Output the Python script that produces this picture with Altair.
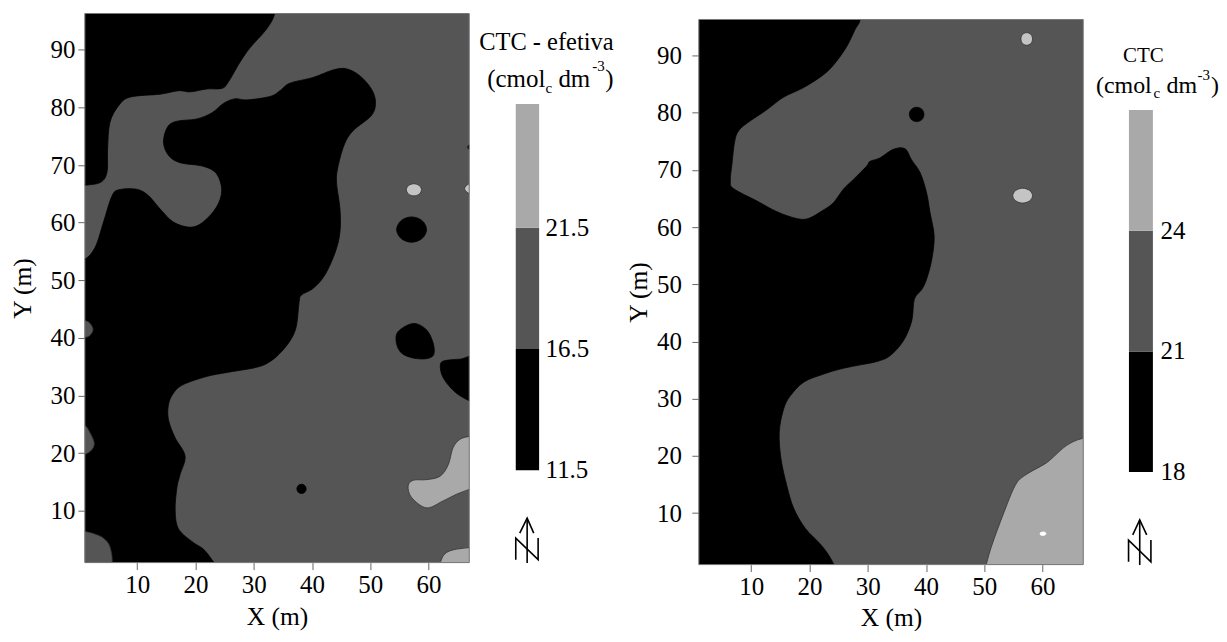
import altair as alt
import pandas as pd

SERIF = "Liberation Serif"
BLACK, DARK, LIGHT, WHITE = "#000000", "#555555", "#a9a9a9", "#ffffff"

x_ticks = [10, 20, 30, 40, 50, 60]
y_ticks = [10, 20, 30, 40, 50, 60, 70, 80, 90]
x_domain = [1, 67]
y_domain = [1, 96.3]

# ---- panel A (CTC - efetiva)
a_black_top = [(-1.5,100),(33.9,100),(33.6,96.3),(32.2,93.6),(29.4,90.4),(27.6,87.8),(25.6,84.35),(24.5,83.3),(21.9,83.2),(19.1,82.7),(17.1,82.9),(13.9,82.3),(8.8,81.8),(6.8,80.3),(5.3,77.4),(4.9,72.8),(4.8,68.8),(3.7,67.0),(1.0,66.5),(-1.5,66.4)]
a_black_main = [(-1.5,53.7),(1.0,53.7),(2.8,55.8),(4.2,60.1),(5.6,64.5),(6.8,65.7),(9.9,65.8),(11.9,64.7),(13.9,62.4),(16.2,60.1),(19.1,59.2),(21.3,60.1),(23.6,62.7),(24.5,65.6),(23.6,68.5),(21.3,69.8),(17.35,70.4),(15.35,71.7),(14.5,74.0),(15.2,76.6),(16.8,77.6),(20.2,78.0),(22.8,79.05),(24.8,80.7),(26.8,81.5),(28.8,81.3),(32.8,81.9),(34.5,82.9),(36.2,84.2),(40.2,85.2),(43.6,86.5),(45.9,86.7),(48.2,85.5),(50.2,83.2),(50.9,80.9),(50.2,78.6),(47.1,76.0),(45.6,73.7),(44.5,69.9),(44.2,67.05),(44.8,62.4),(44.8,58.4),(44.0,54.9),(42.2,50.9),(40.2,48.6),(38.2,47.45),(37.8,46.3),(37.35,42.25),(36.5,39.95),(34.8,37.65),(32.8,35.9),(30.5,34.9),(25.4,34.0),(21.9,33.3),(17.9,31.9),(16.2,30.4),(15.35,28.4),(15.35,25.8),(16.5,22.65),(18.2,19.5),(17.35,16.3),(16.8,14.0),(16.5,10.0),(17.1,6.8),(19.6,4.5),(21.4,3.3),(23.2,1.0),(24.8,-1.0),(-1.5,-1.0)]
a_black_blob = [(57.4,42.5),(59.65,41.4),(60.8,39.1),(60.9,37.1),(59.65,36.4),(57.4,36.5),(55.4,37.35),(54.5,39.1),(54.8,41.1)]
a_black_edge = [(62.1,35.6),(63.1,36.1),(65.4,36.3),(68.2,36.3),(68.2,28.9),(67,29.1),(64.8,30.4),(63.1,32.2),(62.2,33.9)]
a_black_oval = [(59.67,58.8),(58.9,60.35),(57.1,61),(55.3,60.35),(54.53,58.8),(55.3,57.25),(57.1,56.6),(58.9,57.25)]
a_black_dot = [(39.0,13.8),(38.77,14.37),(38.2,14.6),(37.63,14.37),(37.4,13.8),(37.63,13.23),(38.2,13.0),(38.77,13.23)]
a_black_tick = [(67,73.5),(66.75,73.1),(67,72.7),(67.3,73.1)]
a_dark_p1 = [(-0.5,43.0),(1.0,43.0),(1.9,42.5),(2.4,41.4),(1.8,40.35),(1.0,40.1),(-0.5,40.1)]
a_dark_p2 = [(-0.5,24.8),(1.0,24.8),(1.9,23.5),(2.6,21.8),(2.2,20.6),(1.0,19.8),(-0.5,19.8)]
a_dark_p3 = [(-1,6.4),(1,6.4),(3.6,5.6),(5.05,4.3),(5.6,2.5),(5.7,1.0),(5.7,-1),(-1,-1)]
a_light_blob = [(68.2,22.9),(67,22.9),(65.4,22.4),(64.2,20.9),(63.4,18.0),(62.0,16.0),(59.65,15.4),(57.4,15.3),(56.5,14.3),(57.1,12.3),(59.65,10.5),(62.5,11.7),(64.8,12.85),(67,13.7),(68.2,14)]
a_light_bottom = [(61.7,-0.4),(62.1,1.2),(62.8,2.5),(64.2,3.2),(67,3.6),(68.2,3.6),(68.2,-0.4)]
a_light_oval = [(58.8,65.7),(58.4,66.45),(57.5,66.75),(56.6,66.45),(56.2,65.7),(56.6,64.95),(57.5,64.65),(58.4,64.95)]
a_light_edge = [(67,66.7),(66.5,66.4),(66.2,65.9),(66.5,65.4),(67,65.1),(67.5,65.4),(67.8,65.9),(67.5,66.4)]

# ---- panel B (CTC)
b_black_main = [(-1,99.7),(28.7,99.7),(28.7,96.3),(27.8,94.5),(26.4,91.6),(24.4,88.7),(22.4,86.65),(19.0,84.4),(15.5,82.7),(12.7,80.55),(9.3,78.2),(7.8,76.8),(7.15,75.0),(6.7,71.2),(6.4,68.05),(7.0,66.7),(11.0,64.55),(14.4,62.7),(17.8,61.5),(19.8,61.5),(22.1,62.8),(24.1,64.25),(25.8,66.6),(27.5,68.3),(29.8,70.65),(30.4,71.5),(32.1,72.1),(34.4,73.6),(36.4,73.7),(37.5,71.8),(39.0,69.5),(40.1,66.0),(40.7,62.5),(41.4,58.45),(41.0,54.4),(40.1,50.9),(39.3,49.15),(38.0,47.4),(37.55,43.6),(36.1,40.1),(33.8,37.5),(31.55,36.5),(28.1,35.8),(25.3,35.2),(22.4,34.3),(19.0,32.9),(16.7,30.5),(15.55,28.2),(14.8,24.15),(15.1,19.5),(16.1,14.8),(17.3,10.8),(19.3,7.3),(21.8,4.65),(23.3,2.65),(24.2,1.0),(25.3,-0.9),(-1,-0.9)]
b_black_dot = [(39.65,79.7),(39.3,80.6),(38.4,80.95),(37.5,80.6),(37.15,79.7),(37.5,78.8),(38.4,78.45),(39.3,78.8)]
b_light_main = [(49.8,-1),(50.4,1.2),(51.3,4.35),(53.3,9.9),(55.3,14.8),(57.0,16.6),(60.4,18.6),(61.55,19.5),(64.1,21.8),(66.7,23.0),(69.3,23.0),(69.3,-1)]
b_light_oval1 = [(58.3,92.9),(58.0,93.7),(57.3,94.0),(56.6,93.7),(56.3,92.9),(56.6,92.1),(57.3,91.8),(58.0,92.1)]
b_light_oval2 = [(58.3,65.5),(57.8,66.4),(56.6,66.8),(55.4,66.4),(54.9,65.5),(55.4,64.6),(56.6,64.2),(57.8,64.6)]
b_white_spot = [(60.65,6.4),(60.4,6.7),(60.1,6.75),(59.7,6.65),(59.55,6.4),(59.7,6.15),(60.1,6.05),(60.4,6.15)]

# ---- legends
a_classes = [11.5, 16.5, 21.5, 26.6]
b_classes = [18, 21, 24, 27]
class_colors = [BLACK, DARK, LIGHT]
a_labels = ["11.5", "16.5", "21.5"]
b_labels = ["18", "21", "24"]


def axes(label_pad_y, title_pad_y, title_pad_x):
    ax = alt.Axis(
        values=x_ticks, title="X (m)", grid=False, domain=False, tickColor="#666666", tickSize=7,
        labelFont=SERIF, labelFontSize=25, labelColor="#000000", labelPadding=3,
        titleFont=SERIF, titleFontSize=25.5, titleFontWeight="normal", titleColor="#000000", titlePadding=title_pad_x)
    ay = alt.Axis(
        values=y_ticks, title="Y (m)", grid=False, domain=False, tickColor="#666666", tickSize=7,
        labelFont=SERIF, labelFontSize=25, labelColor="#000000", labelPadding=label_pad_y,
        titleFont=SERIF, titleFontSize=25.5, titleFontWeight="normal", titleColor="#000000", titlePadding=title_pad_y)
    return ax, ay


def poly(points, fill, stroke, width=0.8):
    df = pd.DataFrame(points, columns=["x", "y"])
    df["i"] = range(len(df))
    return dict(df=df, fill=fill, stroke=stroke, width=width)


def panel(shapes, h, label_pad_y, title_pad_y, title_pad_x):
    ax, ay = axes(label_pad_y, title_pad_y, title_pad_x)
    sx = alt.Scale(domain=x_domain)
    sy = alt.Scale(domain=y_domain)
    box = pd.DataFrame({"x0": [x_domain[0]], "x1": [x_domain[1]], "y0": [y_domain[0]], "y1": [y_domain[1]]})
    base = alt.Chart(box).mark_rect(fill=DARK).encode(
        x=alt.X("x0:Q", scale=sx, axis=ax), x2="x1:Q",
        y=alt.Y("y0:Q", scale=sy, axis=ay), y2="y1:Q",
    )
    layers = [
        alt.Chart(s["df"]).mark_line(
            fill=s["fill"], stroke=s["stroke"], strokeWidth=s["width"],
            interpolate="cardinal-closed", clip=True,
        ).encode(
            x=alt.X("x:Q", scale=sx, axis=ax),
            y=alt.Y("y:Q", scale=sy, axis=ay),
            order="i:Q",
        )
        for s in shapes
    ]
    frame = alt.Chart(box).mark_rect(fillOpacity=0, stroke="#777777", strokeWidth=1).encode(
        x=alt.X("x0:Q", scale=sx, axis=ax), x2="x1:Q",
        y=alt.Y("y0:Q", scale=sy, axis=ay), y2="y1:Q",
    )
    return alt.layer(base, *layers, frame).properties(width=385, height=h)


def legend(width, h, yd, classes, labels, bar, label_x, texts, arrow):
    sx = alt.Scale(domain=[0, width])
    sy = alt.Scale(domain=yd)
    X = alt.X("x:Q", scale=sx, axis=None)
    Y = alt.Y("y:Q", scale=sy, axis=None)
    bars = pd.DataFrame({
        "x": [bar[0]] * 3, "x2": [bar[1]] * 3,
        "y": classes[:-1], "y2": classes[1:], "c": class_colors,
    })
    layers = [
        alt.Chart(bars).mark_rect().encode(
            x=X, x2="x2:Q", y=Y, y2="y2:Q",
            color=alt.Color("c:N", scale=None),
        )
    ]
    tick_df = pd.DataFrame({"x": [label_x] * 3, "y": classes[:-1], "t": labels})
    layers.append(alt.Chart(tick_df).mark_text(
        align="left", baseline="middle", font=SERIF, fontSize=25, color="#000000"
    ).encode(x=X, y=Y, text="t:N"))
    for t, px, val, size, al in texts:
        df = pd.DataFrame({"x": [px], "y": [val], "t": [t]})
        layers.append(alt.Chart(df).mark_text(
            align=al, baseline="alphabetic", font=SERIF, fontSize=size, color="#000000"
        ).encode(x=X, y=Y, text="t:N"))
    for seg in arrow:
        df = pd.DataFrame(seg, columns=["x", "y"])
        df["i"] = range(len(df))
        layers.append(alt.Chart(df).mark_line(color="#000000", strokeWidth=1.6).encode(x=X, y=Y, order="i:Q"))
    return alt.layer(*layers).properties(width=width, height=h)


EDGE = "#333333"
OVAL = "#c4c4c4"
panel_a = panel(
    [poly(a_black_top, BLACK, BLACK), poly(a_black_main, BLACK, BLACK),
     poly(a_dark_p1, DARK, EDGE), poly(a_dark_p2, DARK, EDGE), poly(a_dark_p3, DARK, EDGE),
     poly(a_black_blob, BLACK, BLACK), poly(a_black_edge, BLACK, BLACK), poly(a_black_oval, BLACK, BLACK),
     poly(a_black_dot, BLACK, BLACK), poly(a_black_tick, BLACK, BLACK),
     poly(a_light_blob, LIGHT, EDGE), poly(a_light_bottom, LIGHT, EDGE),
     poly(a_light_oval, OVAL, EDGE), poly(a_light_edge, OVAL, EDGE)],
    550, 3, 14, 7.5)

panel_b = panel(
    [poly(b_black_main, BLACK, BLACK), poly(b_black_dot, BLACK, BLACK),
     poly(b_light_main, LIGHT, EDGE), poly(b_light_oval1, OVAL, EDGE),
     poly(b_light_oval2, OVAL, EDGE), poly(b_white_spot, WHITE, WHITE, width=0.3)],
    546, 10.5, 4.6, 6)

legend_a = legend(
    155.1, 550, [7.69, 30.335], a_classes, a_labels, (45.6, 69), 75.5,
    [("CTC - efetiva", 76.3, 28.84, 24.5, "center"),
     ("(cmol", 17, 27.30, 25, "left"), ("c", 75.3, 27.06, 15, "left"),
     ("dm", 88.3, 27.30, 25, "left"), ("-3", 122.3, 27.95, 15, "left"), (")", 135.3, 27.30, 25, "left")],
    [[(57, 7.67), (57, 9.525)], [(49.6, 8.907), (57, 9.525), (63.6, 8.907)],
     [(45.6, 7.81), (45.6, 8.70), (68, 7.81), (68, 8.70)]],
)

legend_b = legend(
    135, 546, [15.70, 29.25], b_classes, b_labels, (44.8, 68.8), 76.5,
    [("CTC", 59.2, 28.2, 21, "center"),
     ("(cmol", 11.7, 27.43, 24, "left"), ("c", 69.5, 27.31, 15, "left"),
     ("dm", 82.5, 27.43, 24, "left"), ("-3", 113.5, 27.75, 15, "left"), (")", 127, 27.43, 24, "left")],
    [[(55.6, 15.69), (55.6, 16.81)], [(48.6, 16.44), (55.6, 16.81), (62.6, 16.44)],
     [(44.4, 15.77), (44.4, 16.31), (66.8, 15.77), (66.8, 16.31)]],
)

spacer = alt.Chart(pd.DataFrame({"x": [0]})).mark_point(opacity=0).encode(
    x=alt.X("x:Q", axis=None)
).properties(width=1, height=2.8)

right = alt.vconcat(spacer, alt.hconcat(panel_b, legend_b, spacing=0), spacing=0)
chart = alt.hconcat(panel_a, legend_a, right, spacing=0).properties(
    padding={"left": 3, "top": 3, "right": 0, "bottom": -1},
    background="#ffffff",
).configure_view(stroke=None)

chart.save("out.html", embed_options={"renderer": "svg", "actions": False})
